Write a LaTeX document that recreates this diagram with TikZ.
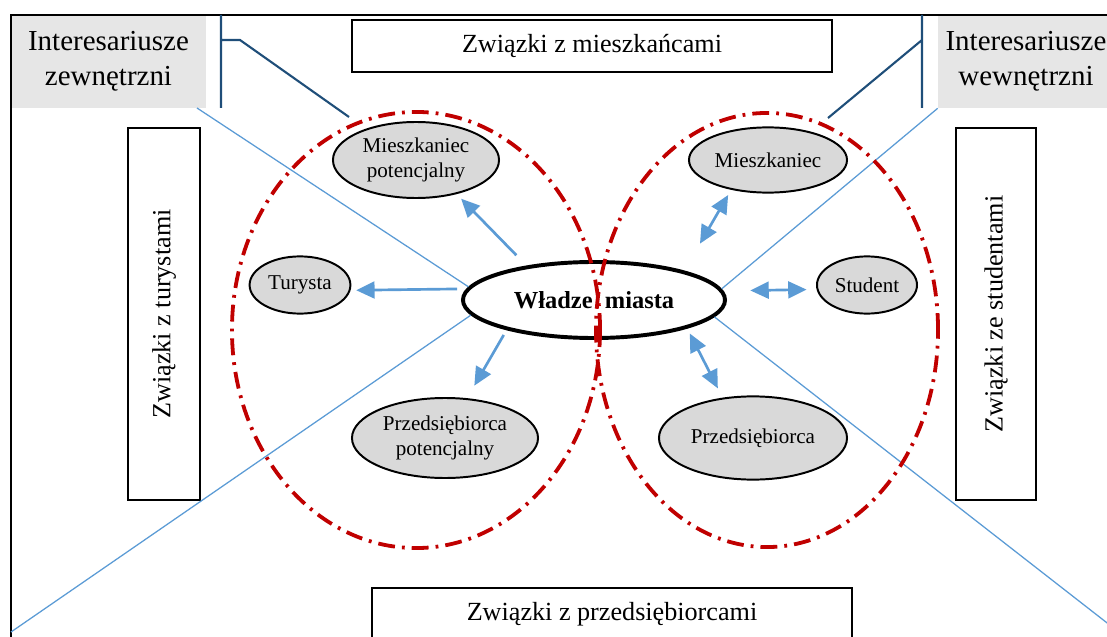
\documentclass[tikz,border=0pt]{standalone}
\usepackage{fontspec}
\setmainfont{Liberation Serif}
\usetikzlibrary{shapes.geometric,arrows.meta}
\definecolor{szary}{HTML}{E6E6E6}
\definecolor{wypel}{HTML}{D9D9D9}
\definecolor{czerw}{HTML}{C00000}
\definecolor{jnieb}{HTML}{5B9BD5}
\definecolor{granat}{HTML}{1F4E79}

\begin{document}
\begin{tikzpicture}[x=0.025cm,y=-0.025cm,>={Triangle[length=0.46cm,width=0.42cm]},
  osoba/.style={ellipse,draw,line width=1.4pt,fill=wypel,inner sep=0pt,align=center,font=\fontsize{15}{18.4}\selectfont},
  ramka/.style={draw,line width=1.2pt,inner sep=0pt,font=\fontsize{18.6}{22}\selectfont},
  grupa/.style={fill=szary,inner sep=0pt,align=center,font=\fontsize{20.6}{24.8}\selectfont},
  strefa/.style={czerw,line width=2.7pt,dash pattern=on 12pt off 5pt on 2pt off 5pt},
  linia/.style={jnieb,line width=0.9pt},
  wiez/.style={jnieb,line width=1.9pt}]
\useasboundingbox (0,0) rectangle (1107,637);

\node[grupa,minimum width=4.875cm,minimum height=2.325cm] (zew) at (108.5,61.5) {Interesariusze\\zewnętrzni};
\node[grupa,minimum width=4.4cm,minimum height=2.325cm] (wew) at (1026,61.5) {Interesariusze\\wewnętrzni};
\draw[line width=1.4pt] (11,650) |- (1120,15);

\node[ramka,minimum width=12cm,minimum height=1.3cm] (zm) at (592,46) {Związki z mieszkańcami};
\node[ramka,minimum width=12cm,minimum height=1.3cm] (zp) at (612,614) {Związki z przedsiębiorcami};
\node[ramka,rotate=90,minimum width=9.3cm,minimum height=1.8cm] (zt) at (164,314) {Związki z turystami};
\node[ramka,rotate=90,minimum width=9.3cm,minimum height=2cm] (zs) at (996,314) {Związki ze studentami};

\node[ellipse,draw,line width=2.8pt,minimum width=6.55cm,minimum height=1.9cm,inner sep=0pt,font=\fontsize{17.4}{20}\selectfont\bfseries] (wm) at (594,300) {Władze\enspace miasta};
\node[osoba,minimum width=4.15cm,minimum height=1.9cm] (mp) at (416,160) {Mieszkaniec\\potencjalny};
\node[osoba,minimum width=2.52cm,minimum height=1.43cm] (tur) at (300,285) {Turysta};
\node[osoba,minimum width=4.65cm,minimum height=2cm] (pp) at (445,438) {Przedsiębiorca\\potencjalny};
\node[osoba,minimum width=3.95cm,minimum height=1.63cm] (mi) at (768,160) {Mieszkaniec};
\node[osoba,minimum width=2.5cm,minimum height=1.43cm] (st) at (867,285) {Student};
\node[osoba,minimum width=4.7cm,minimum height=2.08cm] (pz) at (753,438) {Przedsiębiorca};

% cienkie przekatne
\coordinate (lg) at (197,108);
\coordinate (ld) at (11,632);
\coordinate (pd) at (1120,633);
\draw[linia] (lg) -- (wm.174);
\draw[linia] (ld) -- (wm.187);
\draw[linia] (wm.5) -- (wew.south west);
\draw[linia] (wm.-8) -- (pd);

% klamry
\draw[granat,line width=1.5pt] (221,15) -- (221,108) (221,40) -- (240,40) -- (349,117);
\draw[granat,line width=1.5pt] (922,15) -- (922,108) (922,40) -- (828,118);

\draw[strefa] (416,330) ellipse [x radius=4.6cm,y radius=5.45cm];
\draw[strefa] (767,330) ellipse [x radius=4.275cm,y radius=5.425cm];

\draw[wiez,->,shorten <=0.36cm,shorten >=0.16cm] (wm.153.9) -- (mp.-40.2);
\draw[wiez,->,shorten <=0.23cm,shorten >=0.14cm] (wm.175.7) -- (tur.-6.3);
\draw[wiez,->,shorten <=0.14cm,shorten >=0.36cm] (wm.199.5) -- (pp.61.3);
\draw[wiez,<->,shorten <=0.78cm,shorten >=0.15cm] (wm.18) -- (mi.219.5);
\draw[wiez,<->,shorten <=0.67cm,shorten >=0.25cm] (wm.4.5) -- (st.185.8);
\draw[wiez,<->,shorten <=0.14cm,shorten >=0.26cm] (wm.-17.7) -- (pz.127.4);
\end{tikzpicture}
\end{document}
